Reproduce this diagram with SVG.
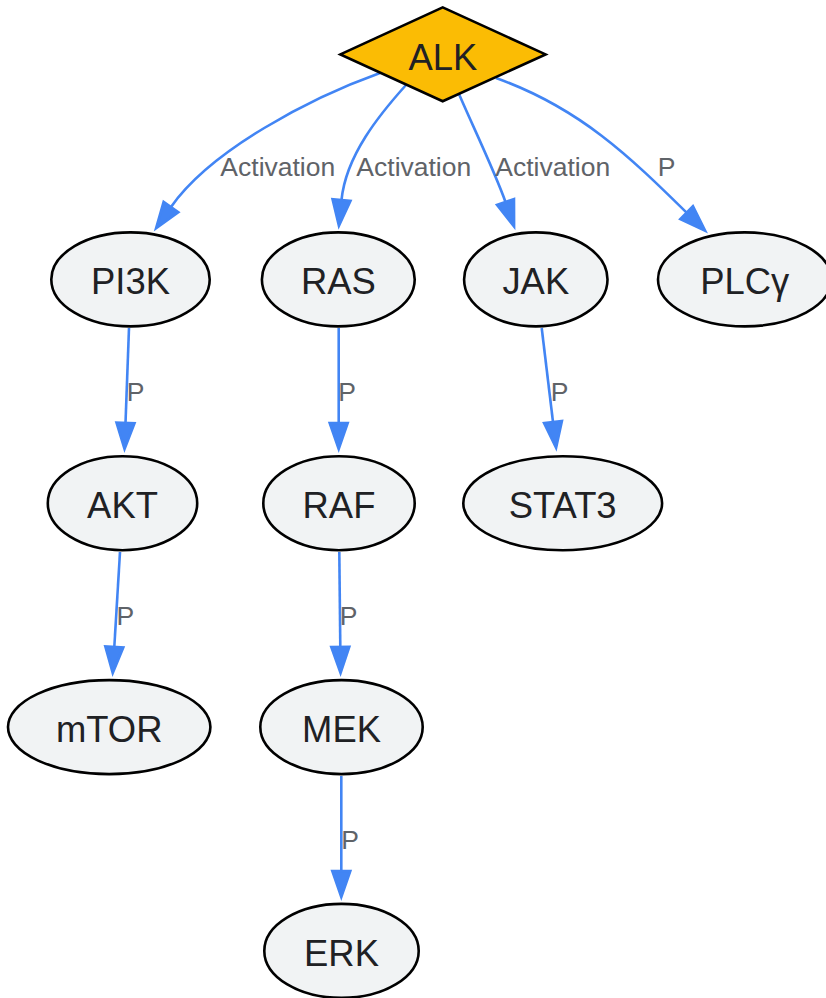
<svg xmlns="http://www.w3.org/2000/svg" width="826" height="998" viewBox="0 0 826 998">
<defs>
<style>
.node ellipse{fill:#F1F3F4;stroke:#000;stroke-width:2.6}
.node polygon{fill:#FBBC04;stroke:#000;stroke-width:2.6}
.node text{font-family:"Liberation Sans",Arial,sans-serif;font-size:36.4px;fill:#202124;text-anchor:middle}
.edge path{fill:none;stroke:#4285F4;stroke-width:2.6}
.lbl{font-family:"Liberation Sans",Arial,sans-serif;font-size:26.5px;fill:#5F6368;text-anchor:middle}
</style>
<marker id="arr" markerUnits="userSpaceOnUse" viewBox="0 0 26 18" markerWidth="26" markerHeight="18" refX="0" refY="9" orient="auto" overflow="visible">
<path d="M0,0 L26,9 L0,18 Z" fill="#4285F4" stroke="#4285F4" stroke-width="2.6"/>
</marker>
</defs>
<rect width="826" height="998" fill="#fff"/>
<g id="connectors" class="edge">
<path d="M380,73 C310,98 211,150 171,207" marker-end="url(#arr)"/>
<path d="M406,85 C380,114 346,155 341.5,200" marker-end="url(#arr)"/>
<path d="M459,94 C470,120 495,172 505.5,202" marker-end="url(#arr)"/>
<path d="M496,78 C580,108 630,157 686.6,212.6" marker-end="url(#arr)"/>
<path d="M129,328 L125.5,423" marker-end="url(#arr)"/>
<path d="M338.7,328 L338.7,423" marker-end="url(#arr)"/>
<path d="M541.7,328 L553,422" marker-end="url(#arr)"/>
<path d="M120,552 L114.3,647" marker-end="url(#arr)"/>
<path d="M339.3,552 L340.3,647" marker-end="url(#arr)"/>
<path d="M341.3,776 L341.3,871" marker-end="url(#arr)"/>
<text class="lbl" x="277.8" y="176">Activation</text>
<text class="lbl" x="413.8" y="176">Activation</text>
<text class="lbl" x="552.7" y="176">Activation</text>
<text class="lbl" x="666.7" y="176">P</text>
<text class="lbl" x="135.5" y="401">P</text>
<text class="lbl" x="347" y="401">P</text>
<text class="lbl" x="559.7" y="401">P</text>
<text class="lbl" x="125.3" y="624.5">P</text>
<text class="lbl" x="348.7" y="624.5">P</text>
<text class="lbl" x="350.2" y="848.5">P</text>
</g>
<g id="ALK" class="node"><polygon points="340.4,54.4 442.7,7.4 545.6,54.4 442.7,101.3"/><text x="443" y="69.5">ALK</text></g>
<g id="PI3K" class="node"><ellipse cx="130.5" cy="279.4" rx="79.2" ry="47"/><text x="130.5" y="294.2">PI3K</text></g>
<g id="RAS" class="node"><ellipse cx="338.3" cy="279.4" rx="76.4" ry="47"/><text x="338.3" y="294.2">RAS</text></g>
<g id="JAK" class="node"><ellipse cx="535.8" cy="279.4" rx="71.7" ry="47"/><text x="535.8" y="294.2">JAK</text></g>
<g id="PLCg" class="node"><ellipse cx="744.7" cy="279.4" rx="86.7" ry="47"/><text x="744.7" y="294.2">PLCγ</text></g>
<g id="AKT" class="node"><ellipse cx="122.5" cy="503.2" rx="74.7" ry="47"/><text x="122.5" y="518.2">AKT</text></g>
<g id="RAF" class="node"><ellipse cx="339" cy="503.2" rx="75.7" ry="47"/><text x="339" y="518.2">RAF</text></g>
<g id="STAT3" class="node"><ellipse cx="562.7" cy="503.2" rx="99.4" ry="47"/><text x="562.7" y="518.2">STAT3</text></g>
<g id="mTOR" class="node"><ellipse cx="109.2" cy="727.1" rx="101.2" ry="47"/><text x="109.2" y="742.2">mTOR</text></g>
<g id="MEK" class="node"><ellipse cx="341.5" cy="727.1" rx="81.2" ry="47"/><text x="341.5" y="742.2">MEK</text></g>
<g id="ERK" class="node"><ellipse cx="341.5" cy="950.9" rx="77.2" ry="47"/><text x="341.5" y="966">ERK</text></g>
</svg>
